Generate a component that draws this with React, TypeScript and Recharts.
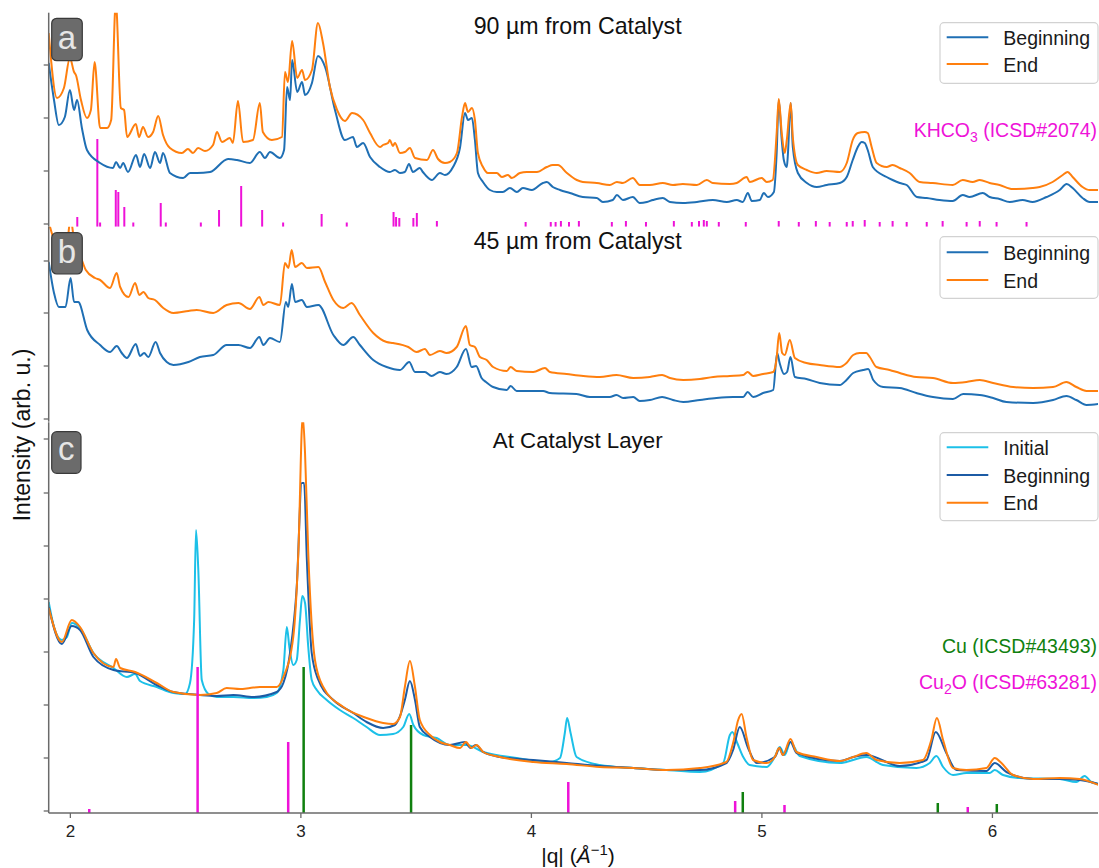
import { LineChart, Line, XAxis, YAxis } from "recharts";

const W = 1099;
const H = 868;
const FONT = "'Liberation Sans', Arial, Helvetica, sans-serif";
const Q_DOMAIN: [number, number] = [1.906, 6.458];
const Q_TICKS = [2, 3, 4, 5, 6];

const BLUE = "#1f6fb4";
const ORANGE = "#ff7f0e";
const CYAN = "#1cc0e8";
const DARK_BLUE = "#1c5ba5";
const MAGENTA = "#ee12d8";
const GREEN = "#10800f";
const SPINE = "#6a6a6a";

type Pt = [number, number];

// (a) 90 µm from catalyst — |q| in 1/Å, intensity in arb. u.
const aBeginning: Pt[] = [
  [1.906, 161], [1.929, 124], [1.95, 99], [1.976, 107], [1.998, 134], [2.016, 114], [2.029, 124],
  [2.05, 96], [2.072, 74], [2.129, 61], [2.185, 56], [2.198, 62], [2.216, 56], [2.229, 61],
  [2.25, 52], [2.285, 69], [2.302, 57], [2.32, 70], [2.346, 56], [2.367, 72], [2.389, 61],
  [2.402, 71], [2.432, 51], [2.489, 46], [2.519, 51], [2.549, 51], [2.606, 52], [2.684, 65],
  [2.723, 64], [2.779, 61], [2.822, 72], [2.844, 66], [2.866, 72], [2.909, 66], [2.927, 74],
  [2.94, 137], [2.953, 124], [2.962, 164], [2.984, 132], [3.005, 142], [3.018, 129], [3.048, 141],
  [3.074, 168], [3.105, 157], [3.148, 114], [3.191, 84], [3.226, 87], [3.243, 77], [3.27, 81],
  [3.3, 67], [3.343, 57], [3.386, 52], [3.408, 54], [3.43, 51], [3.451, 52], [3.469, 60],
  [3.486, 52], [3.516, 56], [3.529, 52], [3.568, 44], [3.603, 51], [3.625, 49], [3.66, 57],
  [3.69, 76], [3.712, 111], [3.725, 104], [3.742, 106], [3.755, 84], [3.768, 51], [3.79, 42],
  [3.82, 34], [3.85, 32], [3.876, 32], [3.907, 36], [3.937, 32], [3.963, 36], [4.002, 34],
  [4.05, 41], [4.067, 42], [4.093, 37], [4.124, 34], [4.167, 31], [4.223, 27], [4.284, 26],
  [4.31, 22], [4.353, 24], [4.371, 29], [4.397, 24], [4.44, 27], [4.47, 21], [4.501, 22],
  [4.527, 24], [4.57, 26], [4.601, 22], [4.657, 21], [4.718, 22], [4.787, 24], [4.848, 22],
  [4.891, 24], [4.917, 22], [4.939, 31], [4.956, 23], [4.991, 24], [5.008, 31], [5.026, 27],
  [5.052, 32], [5.064, 71], [5.073, 124], [5.086, 84], [5.095, 64], [5.108, 57], [5.112, 67],
  [5.125, 121], [5.134, 77], [5.156, 51], [5.195, 41], [5.238, 37], [5.281, 39], [5.338, 41],
  [5.368, 47], [5.394, 64], [5.416, 77], [5.433, 82], [5.446, 81], [5.459, 74], [5.481, 57],
  [5.541, 47], [5.567, 44], [5.598, 41], [5.628, 39], [5.672, 27], [5.715, 26], [5.771, 24],
  [5.828, 23], [5.871, 29], [5.901, 27], [5.958, 31], [5.988, 27], [6.031, 25], [6.075, 22],
  [6.131, 24], [6.174, 22], [6.235, 27], [6.292, 34], [6.322, 40], [6.348, 36], [6.391, 26],
  [6.422, 22], [6.461, 22],
];

const aEnd: Pt[] = [
  [1.906, 191], [1.942, 126], [1.972, 136], [1.998, 166], [2.016, 152], [2.024, 149], [2.046, 124],
  [2.072, 106], [2.089, 114], [2.105, 162], [2.129, 96], [2.159, 96], [2.177, 104], [2.197, 222],
  [2.219, 116], [2.233, 114], [2.246, 87], [2.284, 100], [2.298, 87], [2.315, 97], [2.337, 87],
  [2.359, 92], [2.381, 108], [2.402, 89], [2.432, 76], [2.484, 71], [2.51, 75], [2.532, 71],
  [2.554, 76], [2.584, 73], [2.619, 79], [2.636, 92], [2.658, 82], [2.692, 86], [2.705, 81],
  [2.727, 123], [2.749, 82], [2.792, 84], [2.822, 121], [2.835, 92], [2.874, 84], [2.918, 87],
  [2.931, 152], [2.944, 142], [2.962, 183], [2.984, 146], [3.005, 154], [3.018, 144], [3.048, 154],
  [3.074, 201], [3.096, 181], [3.126, 137], [3.157, 114], [3.191, 103], [3.222, 111], [3.27, 104],
  [3.3, 91], [3.343, 77], [3.356, 79], [3.378, 81], [3.386, 84], [3.399, 78], [3.408, 81],
  [3.43, 71], [3.451, 72], [3.473, 76], [3.495, 66], [3.547, 64], [3.573, 74], [3.595, 65],
  [3.625, 61], [3.646, 62], [3.677, 71], [3.699, 107], [3.712, 121], [3.725, 112], [3.742, 116],
  [3.755, 104], [3.768, 71], [3.79, 57], [3.811, 51], [3.85, 51], [3.872, 47], [3.898, 49],
  [3.915, 46], [3.95, 51], [3.98, 52], [4.024, 52], [4.067, 57], [4.093, 59], [4.115, 59],
  [4.154, 51], [4.197, 44], [4.223, 42], [4.284, 41], [4.34, 39], [4.371, 42], [4.397, 41],
  [4.44, 46], [4.47, 39], [4.514, 39], [4.57, 41], [4.614, 39], [4.657, 40], [4.718, 39],
  [4.761, 44], [4.787, 41], [4.861, 40], [4.891, 41], [4.934, 47], [4.947, 42], [4.999, 46],
  [5.021, 42], [5.047, 44], [5.064, 91], [5.073, 125], [5.086, 91], [5.099, 71], [5.108, 84],
  [5.125, 121], [5.134, 87], [5.156, 59], [5.195, 54], [5.238, 51], [5.281, 53], [5.338, 52],
  [5.368, 61], [5.394, 84], [5.416, 91], [5.446, 92], [5.459, 91], [5.476, 77], [5.498, 61],
  [5.541, 57], [5.567, 59], [5.598, 56], [5.641, 51], [5.685, 42], [5.741, 41], [5.828, 39],
  [5.871, 44], [5.914, 42], [5.945, 44], [5.988, 41], [6.031, 39], [6.088, 35], [6.174, 36],
  [6.205, 37], [6.261, 42], [6.305, 49], [6.326, 52], [6.348, 47], [6.391, 37], [6.422, 34],
  [6.461, 34],
];

// KHCO3 reference (ICSD#2074): position, relative intensity
const khco3Sticks: Pt[] = [
  [2.03, 7], [2.117, 85], [2.129, 1.5], [2.197, 34], [2.208, 32], [2.234, 17], [2.273, 1.5],
  [2.392, 21], [2.414, 1.5], [2.566, 1.5], [2.645, 14], [2.741, 38], [2.832, 14], [2.923, 1.5],
  [3.09, 10], [3.199, 1.5], [3.402, 12], [3.413, 7], [3.427, 6], [3.488, 6], [3.503, 11],
  [3.59, 3], [3.975, 2], [4.084, 2], [4.105, 2], [4.128, 3], [4.163, 2], [4.206, 3], [4.349, 2],
  [4.41, 3], [4.497, 2], [4.618, 3], [4.696, 2], [4.727, 3], [4.748, 4], [4.761, 3], [4.813, 2],
  [4.93, 2], [5.073, 3], [5.16, 2], [5.234, 3], [5.294, 2], [5.368, 2], [5.394, 3], [5.446, 4],
  [5.511, 2], [5.567, 3], [5.628, 2], [5.715, 2], [5.784, 3], [5.888, 2], [5.945, 3], [6.018, 2],
  [6.148, 2],
];

// (b) 45 µm from catalyst
const bBeginning: Pt[] = [
  [1.906, 157], [1.929, 126], [1.95, 112], [1.979, 112], [2.001, 141], [2.016, 117], [2.034, 117],
  [2.073, 89], [2.129, 74], [2.172, 67], [2.201, 73], [2.223, 66], [2.245, 61], [2.284, 75],
  [2.302, 63], [2.32, 66], [2.338, 62], [2.37, 77], [2.389, 66], [2.418, 57], [2.447, 54],
  [2.512, 57], [2.562, 62], [2.62, 64], [2.678, 74], [2.729, 74], [2.779, 71], [2.82, 82],
  [2.837, 74], [2.866, 81], [2.909, 77], [2.935, 117], [2.945, 112], [2.961, 135], [2.975, 117],
  [3.004, 119], [3.026, 112], [3.076, 114], [3.141, 84], [3.184, 74], [3.227, 82], [3.256, 74],
  [3.314, 59], [3.372, 52], [3.43, 49], [3.47, 57], [3.495, 47], [3.538, 47], [3.567, 43],
  [3.603, 47], [3.632, 45], [3.676, 52], [3.716, 70], [3.741, 52], [3.76, 53], [3.784, 41],
  [3.803, 37], [3.834, 32], [3.893, 29], [3.91, 33], [3.936, 28], [4.051, 28], [4.08, 26],
  [4.196, 25], [4.254, 22], [4.34, 22], [4.369, 24], [4.398, 21], [4.442, 22], [4.47, 18],
  [4.514, 19], [4.567, 22], [4.614, 19], [4.659, 17], [4.731, 19], [4.803, 21], [4.875, 22],
  [4.919, 22], [4.938, 27], [4.962, 22], [5.005, 26], [5.049, 29], [5.066, 66], [5.077, 56],
  [5.096, 45], [5.109, 47], [5.124, 62], [5.143, 42], [5.193, 40], [5.251, 36], [5.338, 34],
  [5.367, 39], [5.396, 46], [5.439, 49], [5.461, 50], [5.483, 39], [5.526, 32], [5.598, 31],
  [5.67, 26], [5.742, 22], [5.829, 20], [5.873, 25], [5.945, 24], [6.003, 21], [6.061, 17],
  [6.177, 16], [6.263, 19], [6.321, 23], [6.364, 19], [6.408, 14], [6.461, 15],
];

const bEnd: Pt[] = [
  [1.906, 197], [1.929, 179], [1.959, 167], [1.985, 174], [2.001, 201], [2.016, 179], [2.029, 171],
  [2.045, 162], [2.067, 149], [2.107, 141], [2.129, 139], [2.172, 131], [2.201, 146], [2.216, 132],
  [2.252, 122], [2.281, 136], [2.299, 124], [2.317, 127], [2.338, 121], [2.367, 119], [2.403, 111],
  [2.447, 106], [2.512, 108], [2.548, 109], [2.62, 106], [2.678, 114], [2.729, 116], [2.779, 110],
  [2.82, 122], [2.837, 114], [2.859, 117], [2.909, 114], [2.931, 156], [2.946, 151], [2.96, 169],
  [2.975, 152], [3.004, 156], [3.026, 151], [3.076, 152], [3.105, 137], [3.141, 119], [3.184, 111],
  [3.22, 116], [3.256, 104], [3.314, 86], [3.372, 77], [3.4, 76], [3.466, 72], [3.502, 67],
  [3.538, 70], [3.56, 64], [3.603, 68], [3.632, 66], [3.676, 72], [3.716, 93], [3.733, 74],
  [3.755, 72], [3.777, 62], [3.806, 59], [3.834, 52], [3.893, 48], [3.91, 52], [3.936, 48],
  [4.008, 47], [4.059, 51], [4.08, 47], [4.153, 45], [4.225, 43], [4.297, 42], [4.369, 44],
  [4.442, 41], [4.514, 42], [4.567, 44], [4.601, 41], [4.659, 39], [4.731, 40], [4.789, 42],
  [4.861, 43], [4.919, 44], [4.938, 47], [4.962, 43], [5.005, 45], [5.049, 47], [5.063, 59],
  [5.075, 86], [5.088, 66], [5.099, 64], [5.121, 79], [5.143, 61], [5.193, 56], [5.251, 54],
  [5.338, 52], [5.367, 56], [5.396, 64], [5.424, 66], [5.453, 66], [5.468, 62], [5.497, 52],
  [5.554, 49], [5.598, 46], [5.67, 42], [5.742, 41], [5.829, 36], [5.887, 37], [5.945, 39],
  [6.003, 36], [6.09, 32], [6.177, 31], [6.263, 32], [6.321, 37], [6.364, 32], [6.408, 28],
  [6.461, 28],
];

// (c) at catalyst layer
const cInitial: Pt[] = [
  [1.906, 209], [1.929, 184], [1.963, 171], [1.985, 174], [2.006, 188], [2.042, 183], [2.1, 158],
  [2.187, 143], [2.245, 134], [2.281, 137], [2.302, 130], [2.375, 124], [2.447, 118], [2.498, 117],
  [2.519, 128], [2.537, 191], [2.545, 281], [2.555, 241], [2.57, 131], [2.599, 117], [2.635, 114],
  [2.707, 114], [2.794, 113], [2.852, 114], [2.895, 118], [2.924, 141], [2.939, 184], [2.95, 164],
  [2.967, 146], [2.982, 151], [2.996, 191], [3.006, 215], [3.018, 208], [3.032, 164], [3.047, 131],
  [3.069, 121], [3.112, 111], [3.169, 101], [3.227, 93], [3.285, 84], [3.343, 76], [3.4, 77],
  [3.444, 84], [3.47, 97], [3.488, 86], [3.531, 76], [3.589, 73], [3.646, 66], [3.719, 66],
  [3.791, 59], [3.936, 53], [4.08, 49], [4.124, 53], [4.145, 78], [4.155, 93], [4.17, 78],
  [4.196, 54], [4.297, 46], [4.442, 43], [4.586, 41], [4.731, 39], [4.832, 48], [4.861, 76],
  [4.871, 79], [4.893, 68], [4.919, 54], [4.947, 46], [5.02, 44], [5.056, 54], [5.077, 64],
  [5.099, 56], [5.124, 69], [5.164, 55], [5.338, 48], [5.453, 54], [5.525, 46], [5.67, 43],
  [5.728, 48], [5.757, 55], [5.786, 44], [5.829, 36], [5.887, 38], [5.988, 38], [6.01, 41],
  [6.046, 36], [6.118, 33], [6.292, 32], [6.364, 29], [6.4, 35], [6.429, 29], [6.461, 27],
];

const cBeginning: Pt[] = [
  [1.906, 204], [1.963, 167], [2.006, 185], [2.042, 181], [2.1, 154], [2.187, 141], [2.281, 138],
  [2.375, 126], [2.447, 119], [2.562, 116], [2.635, 115], [2.707, 116], [2.794, 114], [2.895, 119],
  [2.924, 128], [2.953, 158], [2.982, 224], [3.004, 328], [3.014, 328], [3.026, 251], [3.047, 158],
  [3.076, 131], [3.141, 111], [3.227, 98], [3.285, 89], [3.357, 83], [3.408, 86], [3.43, 95],
  [3.451, 111], [3.473, 130], [3.495, 111], [3.516, 84], [3.56, 74], [3.646, 66], [3.711, 69],
  [3.736, 63], [3.758, 66], [3.791, 59], [3.863, 54], [4.008, 51], [4.153, 48], [4.297, 45],
  [4.442, 43], [4.586, 41], [4.731, 41], [4.846, 48], [4.875, 61], [4.904, 84], [4.94, 63],
  [4.977, 48], [5.056, 54], [5.077, 63], [5.091, 56], [5.124, 69], [5.15, 58], [5.338, 50],
  [5.396, 54], [5.453, 56], [5.598, 45], [5.714, 51], [5.754, 79], [5.8, 58], [5.844, 41],
  [5.974, 40], [6.01, 48], [6.061, 39], [6.176, 32], [6.292, 32], [6.378, 31], [6.461, 27],
];

const cEnd: Pt[] = [
  [1.906, 203], [1.963, 169], [2.006, 191], [2.042, 184], [2.1, 158], [2.187, 144], [2.198, 152],
  [2.216, 143], [2.281, 139], [2.375, 128], [2.447, 119], [2.562, 116], [2.635, 118], [2.678, 123],
  [2.736, 122], [2.779, 123], [2.822, 124], [2.895, 124], [2.924, 134], [2.967, 174], [2.989, 258],
  [3.008, 395], [3.018, 358], [3.032, 258], [3.061, 151], [3.097, 124], [3.184, 104], [3.285, 93],
  [3.357, 88], [3.4, 87], [3.43, 94], [3.451, 124], [3.473, 150], [3.495, 124], [3.516, 91],
  [3.56, 76], [3.603, 69], [3.646, 66], [3.69, 63], [3.716, 69], [3.74, 63], [3.762, 66],
  [3.791, 59], [3.863, 54], [4.008, 49], [4.153, 47], [4.297, 44], [4.442, 43], [4.586, 41],
  [4.731, 43], [4.846, 49], [4.875, 68], [4.897, 91], [4.912, 97], [4.933, 74], [4.962, 51],
  [5.02, 48], [5.056, 54], [5.075, 63], [5.091, 56], [5.124, 72], [5.15, 59], [5.237, 54],
  [5.338, 50], [5.396, 54], [5.453, 58], [5.497, 51], [5.598, 48], [5.699, 51], [5.735, 71],
  [5.759, 93], [5.786, 71], [5.829, 43], [5.887, 41], [5.974, 43], [6.01, 53], [6.039, 48],
  [6.09, 36], [6.177, 32], [6.292, 33], [6.378, 32], [6.461, 26],
];

// Cu (ICSD#43493) and Cu2O (ICSD#63281) references
const cuSticks: Pt[] = [[3.012, 144], [3.478, 86], [4.917, 19], [5.763, 8], [6.019, 7]];
const cu2oSticks: Pt[] = [[2.082, 2], [2.552, 144], [2.945, 69], [4.16, 29], [4.884, 10], [5.098, 6], [5.893, 4]];

const toPts = (arr: Pt[]) => arr.map(([q, v]) => ({ q, v }));
const toSticks = (arr: Pt[], base: number) =>
  arr.flatMap(([q, v]) => [{ q, v: base }, { q, v }, { q, v: null }]);

type Series = { name: string; color: string; data: Pt[] };
type Sticks = { color: string; data: Pt[]; width: number };

type PanelProps = {
  top: number;
  bottom: number;
  yDomain: [number, number];
  yTicks: number[];
  curves: Series[];
  sticks: Sticks[];
  sticksOnTop?: boolean;
  showX?: boolean;
};

const noLabel = () => "";

function Panel({ top, bottom, yDomain, yTicks, curves, sticks, sticksOnTop, showX }: PanelProps) {
  const xH = showX ? 30 : 0;
  const stickLines = sticks.map((s, i) => (
    <Line
      key={"s" + i}
      data={toSticks(s.data, yDomain[0])}
      dataKey="v"
      type="linear"
      stroke={s.color}
      strokeWidth={s.width}
      dot={false}
      connectNulls={false}
      isAnimationActive={false}
    />
  ));
  const curveLines = curves.map((c) => (
    <Line
      key={c.name}
      data={toPts(c.data)}
      dataKey="v"
      name={c.name}
      type="monotoneX"
      stroke={c.color}
      strokeWidth={2}
      dot={false}
      isAnimationActive={false}
    />
  ));
  return (
    <div style={{ position: "absolute", left: 0, top: 0 }}>
      <LineChart
        width={W}
        height={H}
        margin={{ top, right: 1, bottom: H - bottom - xH, left: 0 }}
      >
        <XAxis
          dataKey="q"
          type="number"
          domain={Q_DOMAIN}
          allowDataOverflow
          ticks={showX ? Q_TICKS : []}
          height={xH}
          tick={showX ? { fontSize: 17, fill: "#222", fontFamily: FONT } : false}
          tickLine={showX ? { stroke: SPINE, strokeWidth: 1.3 } : false}
          tickSize={5}
          tickMargin={7}
          axisLine={{ stroke: SPINE, strokeWidth: 1.5 }}
        />
        <XAxis
          xAxisId="top"
          orientation="top"
          dataKey="q"
          type="number"
          domain={Q_DOMAIN}
          allowDataOverflow
          height={0}
          tick={false}
          tickLine={false}
          axisLine={{ stroke: SPINE, strokeWidth: 1.5 }}
        />
        <YAxis
          type="number"
          domain={yDomain}
          allowDataOverflow
          ticks={yTicks}
          width={48.7}
          tickFormatter={noLabel}
          tickSize={5}
          tickLine={{ stroke: SPINE, strokeWidth: 1.3 }}
          axisLine={{ stroke: SPINE, strokeWidth: 1.5 }}
        />
        {sticksOnTop ? null : stickLines}
        {curveLines}
        {sticksOnTop ? stickLines : null}
      </LineChart>
    </div>
  );
}

const panelA: Series[] = [
  { name: "Beginning", color: BLUE, data: aBeginning },
  { name: "End", color: ORANGE, data: aEnd },
];
const panelB: Series[] = [
  { name: "Beginning", color: BLUE, data: bBeginning },
  { name: "End", color: ORANGE, data: bEnd },
];
const panelC: Series[] = [
  { name: "Initial", color: CYAN, data: cInitial },
  { name: "Beginning", color: DARK_BLUE, data: cBeginning },
  { name: "End", color: ORANGE, data: cEnd },
];

function LegendBox({ x, y, h, rowYs, items }: { x: number; y: number; h: number; rowYs: number[]; items: Series[] }) {
  return (
    <g>
      <rect x={x} y={y} width={158} height={h} rx={4} fill="#fff" fillOpacity={0.85} stroke="#d2d2d2" strokeWidth={1.2} />
      {items.map((it, i) => (
        <g key={it.name}>
          <line x1={x + 6.7} x2={x + 48.3} y1={rowYs[i]} y2={rowYs[i]} stroke={it.color} strokeWidth={2} />
          <text x={x + 63.3} y={rowYs[i] + 7.5} fontSize={19.5} fill="#1a1a1a">
            {it.name}
          </text>
        </g>
      ))}
    </g>
  );
}

function Tag({ x, y, w, h, label, base }: { x: number; y: number; w: number; h: number; label: string; base: number }) {
  return (
    <g>
      <rect x={x} y={y} width={w} height={h} rx={5} fill="#6b6b6b" stroke="#3a3a3a" strokeWidth={1.2} />
      <text x={x + w / 2} y={base} textAnchor="middle" fontSize={33} fill="#e6e6e6">
        {label}
      </text>
    </g>
  );
}

export default function App() {
  return (
    <div style={{ position: "absolute", left: 0, top: 0, width: W, height: H, background: "#fff", fontFamily: FONT }}>
      <Panel
        top={12.7}
        bottom={226.7}
        yDomain={[-2.7, 211.3]}
        yTicks={[0, 53, 106, 159]}
        curves={panelA}
        sticks={[{ color: MAGENTA, data: khco3Sticks, width: 2 }]}
      />
      <Panel
        top={226.7}
        bottom={421.7}
        yDomain={[-2.7, 192.3]}
        yTicks={[0, 53, 106, 158]}
        curves={panelB}
        sticks={[]}
      />
      <Panel
        top={422.2}
        bottom={813}
        yDomain={[-2, 388.8]}
        yTicks={[0, 53, 106, 159, 212, 265, 318, 372]}
        curves={panelC}
        sticks={[
          { color: MAGENTA, data: cu2oSticks, width: 2.5 },
          { color: GREEN, data: cuSticks, width: 2.5 },
        ]}
        sticksOnTop
        showX
      />
      <svg
        width={W}
        height={H}
        style={{ position: "absolute", left: 0, top: 0, pointerEvents: "none" }}
        fontFamily={FONT}
      >
        <text x={577.7} y={34.3} textAnchor="middle" fontSize={23.2} fill="#111">90 µm from Catalyst</text>
        <text x={577.7} y={249.3} textAnchor="middle" fontSize={23.2} fill="#111">45 µm from Catalyst</text>
        <text x={577.7} y={448.3} textAnchor="middle" fontSize={22.3} fill="#111">At Catalyst Layer</text>

        <text x={1097} y={137} textAnchor="end" fontSize={19.5} fill={MAGENTA}>
          KHCO<tspan dy={5} fontSize={14}>3</tspan>
          <tspan dy={-5}> (ICSD#2074)</tspan>
        </text>
        <text x={1097} y={652.7} textAnchor="end" fontSize={19.5} fill={GREEN}>Cu (ICSD#43493)</text>
        <text x={1097} y={689.3} textAnchor="end" fontSize={19.5} fill={MAGENTA}>
          Cu<tspan dy={5} fontSize={14}>2</tspan>
          <tspan dy={-5}>O (ICSD#63281)</tspan>
        </text>

        <text
          transform="translate(30,435) rotate(-90)"
          textAnchor="middle"
          fontSize={23}
          fill="#111"
        >
          Intensity (arb. u.)
        </text>
        <text x={578} y={863} textAnchor="middle" fontSize={21} fill="#111">
          |q| (<tspan fontStyle="italic">Å</tspan>
          <tspan dy={-8} fontSize={15}>−1</tspan>
          <tspan dy={8}>)</tspan>
        </text>

        <Tag x={51.7} y={18.3} w={30.6} h={42.4} label="a" base={49} />
        <Tag x={51.7} y={232.7} w={30.6} h={41.3} label="b" base={262.7} />
        <Tag x={51.7} y={431.7} w={29.3} h={41.6} label="c" base={460} />

        <LegendBox x={940} y={22.7} h={60.6} rowYs={[37.3, 64]} items={panelA} />
        <LegendBox x={940} y={236.7} h={61.6} rowYs={[252.3, 280]} items={panelB} />
        <LegendBox x={940} y={432.7} h={88} rowYs={[447.3, 475, 502.7]} items={panelC} />
      </svg>
    </div>
  );
}
